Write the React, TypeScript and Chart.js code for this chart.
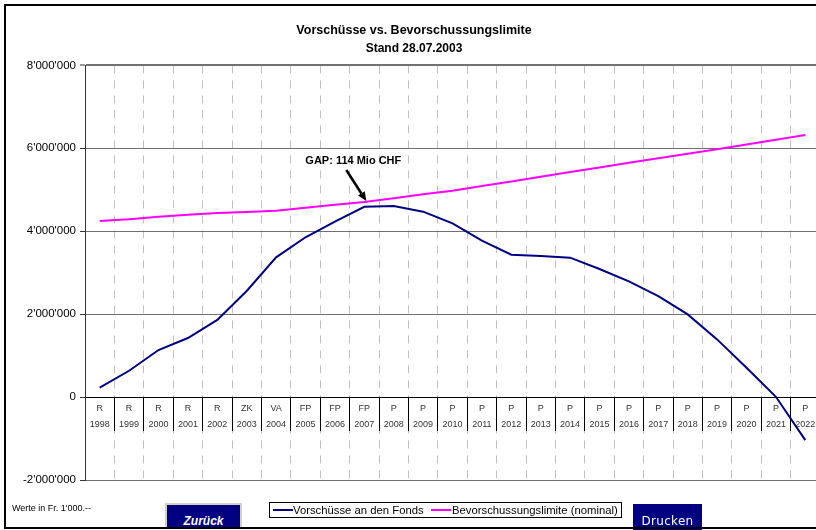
import React, { useEffect, useRef } from 'react';
import { Chart, registerables } from 'chart.js';

Chart.register(...registerables);

const years = ['1998','1999','2000','2001','2002','2003','2004','2005','2006','2007','2008','2009','2010','2011','2012','2013','2014','2015','2016','2017','2018','2019','2020','2021','2022'];
const phases = ['R','R','R','R','R','ZK','VA','FP','FP','FP','P','P','P','P','P','P','P','P','P','P','P','P','P','P','P'];
const vorschuesse = [230000, 635000, 1135000, 1425000, 1860000, 2560000, 3370000, 3855000, 4230000, 4591000, 4610000, 4472000, 4190000, 3772000, 3434000, 3402000, 3362000, 3089000, 2791000, 2437000, 1995000, 1392000, 708000, 7000, -1038000];
const limite = [4247000, 4288000, 4351000, 4399000, 4440000, 4464000, 4496000, 4568000, 4641000, 4705000, 4795000, 4891000, 4978000, 5090000, 5200000, 5315000, 5430000, 5540000, 5650000, 5760000, 5870000, 5980000, 6090000, 6205000, 6322000];
const seriesNames = ['Vorschüsse an den Fonds', 'Bevorschussungslimite (nominal)'];
const seriesColors = ['#000080', '#ff00ff'];
const yTicks = { min: -2000000, max: 8000000, step: 2000000 };
const titleText = 'Vorschüsse vs. Bevorschussungslimite';
const subtitleText = 'Stand 28.07.2003';
const gapYear = '2007';
const gapLabel = 'GAP: 114 Mio CHF';
const noteText = "Werte in Fr. 1'000.--";

const FONT = '"Liberation Sans", Arial, sans-serif';

function fmt(v: number): string {
  const neg = v < 0;
  const s = Math.abs(Math.round(v)).toString().replace(/\B(?=(\d{3})+(?!\d))/g, "'");
  return (neg ? '-' : '') + s;
}

const gapPlugin = {
  id: 'gapArrow',
  afterDatasetsDraw(chart: any) {
    const { ctx, scales } = chart;
    const i = years.indexOf(gapYear);
    const tipX = scales.x.getPixelForValue(i) + 2;
    const tipY = scales.y.getPixelForValue(limite[i]) - 1;
    const sx = tipX - 20;
    const sy = tipY - 31;
    ctx.save();
    ctx.strokeStyle = '#000';
    ctx.fillStyle = '#000';
    ctx.lineWidth = 2.5;
    const ang = Math.atan2(tipY - sy, tipX - sx);
    const headLen = 9;
    const bx = tipX - headLen * Math.cos(ang);
    const by = tipY - headLen * Math.sin(ang);
    ctx.beginPath();
    ctx.moveTo(sx, sy);
    ctx.lineTo(bx, by);
    ctx.stroke();
    ctx.beginPath();
    ctx.moveTo(tipX, tipY);
    ctx.lineTo(bx + 4 * Math.sin(ang), by - 4 * Math.cos(ang));
    ctx.lineTo(bx - 4 * Math.sin(ang), by + 4 * Math.cos(ang));
    ctx.closePath();
    ctx.fill();
    ctx.font = 'bold 11px ' + FONT;
    ctx.textAlign = 'center';
    ctx.textBaseline = 'middle';
    ctx.fillText(gapLabel, tipX - 13, tipY - 40);
    ctx.restore();
  },
};

export default function App() {
  const ref = useRef<HTMLCanvasElement | null>(null);

  useEffect(() => {
    document.body.style.margin = '0';
    const canvas = ref.current;
    if (!canvas) return;
    const chart = new Chart(canvas, {
      type: 'line',
      data: {
        labels: years.map((y, i) => [phases[i], y]),
        datasets: [
          {
            label: seriesNames[0],
            data: vorschuesse,
            borderColor: seriesColors[0],
            backgroundColor: seriesColors[0],
            borderWidth: 2,
            pointRadius: 0,
            tension: 0,
          },
          {
            label: seriesNames[1],
            data: limite,
            borderColor: seriesColors[1],
            backgroundColor: seriesColors[1],
            borderWidth: 2,
            pointRadius: 0,
            tension: 0,
          },
        ],
      },
      options: {
        responsive: false,
        animation: false,
        devicePixelRatio: 1,
        layout: { padding: { left: 8, right: 10, top: 6, bottom: 50 } },
        plugins: {
          legend: { display: false },
          tooltip: { enabled: false },
          title: {
            display: true,
            text: titleText,
            color: '#000',
            font: { family: FONT, size: 12.5, weight: 'bold' },
            padding: { top: 17.5, bottom: 1.5 },
          },
          subtitle: {
            display: true,
            text: subtitleText,
            color: '#000',
            font: { family: FONT, size: 12, weight: 'bold' },
            padding: { top: 1, bottom: 10 },
          },
        },
        scales: {
          x: {
            type: 'category',
            position: { y: 0 } as any,
            offset: true,
            afterFit: (s: any) => { s.height = 0; },
            grid: {
              offset: true,
              color: '#c0c0c0',
              lineWidth: 1,
              tickLength: 33,
              tickColor: '#000',
              tickWidth: 1,
              tickBorderDash: [],
            },
            border: { display: true, color: '#000', width: 1, dash: [8, 7] },
            ticks: {
              autoSkip: false,
              maxRotation: 0,
              minRotation: 0,
              padding: -30,
              color: '#333',
              font: { family: FONT, size: 9, lineHeight: 16 / 9 },
            },
          },
          y: {
            min: yTicks.min,
            max: yTicks.max,
            afterFit: (s: any) => { s.width = 77; },
            grid: {
              color: (c: any) => (c.tick && c.tick.value === 0 ? '#000' : '#707070'),
              lineWidth: (c: any) => (c.tick && c.tick.value === yTicks.max ? 2 : 1),
              tickLength: 5,
              tickColor: '#333',
              tickWidth: 1,
            },
            border: { display: true, color: '#333', width: 1 },
            ticks: {
              stepSize: yTicks.step,
              padding: 4,
              color: '#000',
              font: { family: FONT, size: 11.5 },
              callback: (v: any) => fmt(Number(v)),
            },
          },
        },
      },
      plugins: [gapPlugin],
    } as any);
    return () => chart.destroy();
  }, []);

  return (
    <div style={{ position: 'relative', width: 816, height: 530, overflow: 'hidden', background: '#fff' }}>
      <canvas ref={ref} width={830} height={530} style={{ position: 'absolute', left: 0, top: 0, display: 'block' }} />
      <div style={{ position: 'absolute', left: 12, top: 503, font: '9px ' + FONT, color: '#000', whiteSpace: 'nowrap' }}>{noteText}</div>
      <div style={{ position: 'absolute', left: 165, top: 503, width: 77, height: 26, boxSizing: 'border-box', background: '#000080', borderTop: '2px solid #d4d0c8', borderLeft: '2px solid #d4d0c8', borderRight: '2px solid #d4d0c8' }}>
        <div style={{ position: 'absolute', left: 0, right: 0, top: 9, textAlign: 'center', color: '#fff', font: 'italic bold 12px ' + FONT }}>Zurück</div>
      </div>
      <div style={{ position: 'absolute', left: 269, top: 502, width: 353, height: 16, boxSizing: 'border-box', border: '1px solid #000', background: '#fff', font: '11.3px ' + FONT, color: '#000' }}>
        <div style={{ position: 'absolute', left: 3, top: 6, width: 20, height: 2, background: seriesColors[0] }} />
        <div style={{ position: 'absolute', left: 23, top: 0, lineHeight: '14px', whiteSpace: 'nowrap' }}>{seriesNames[0]}</div>
        <div style={{ position: 'absolute', left: 161, top: 6, width: 20, height: 2, background: seriesColors[1] }} />
        <div style={{ position: 'absolute', left: 182, top: 0, lineHeight: '14px', whiteSpace: 'nowrap' }}>{seriesNames[1]}</div>
      </div>
      <div style={{ position: 'absolute', left: 633, top: 504, width: 69, height: 26, background: '#000080' }}>
        <div style={{ position: 'absolute', left: 0, right: 0, top: 10, textAlign: 'center', color: '#fff', font: '12px "DejaVu Sans", sans-serif', letterSpacing: '0.3px' }}>Drucken</div>
      </div>
      <div style={{ position: 'absolute', left: 4, top: 4, width: 900, height: 525, boxSizing: 'border-box', border: '2px solid #000', borderRight: 'none', pointerEvents: 'none' }} />
    </div>
  );
}
